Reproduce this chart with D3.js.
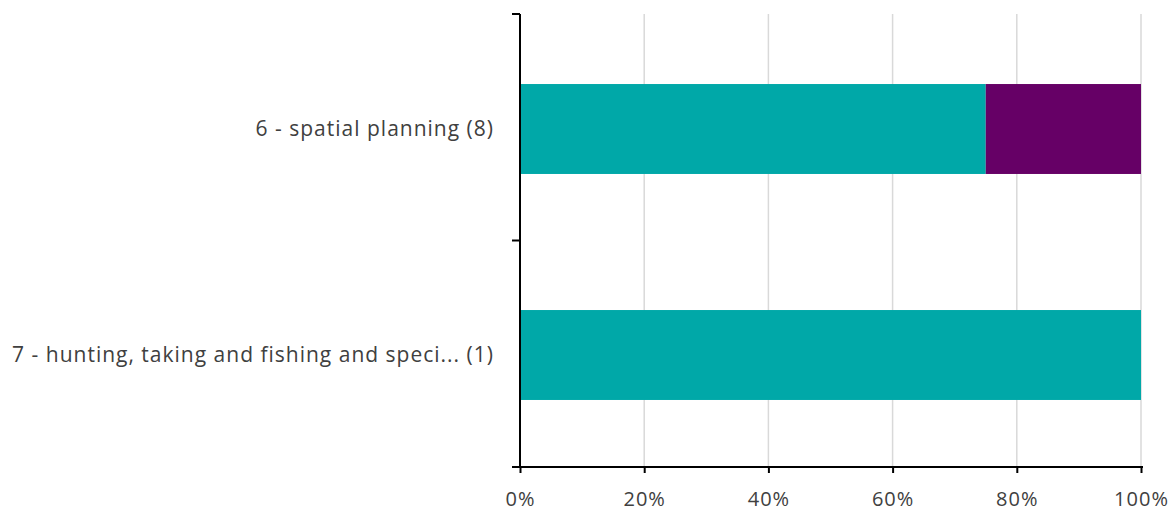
<!DOCTYPE html>
<html>
<head>
<meta charset="utf-8">
<script src="https://cdn.jsdelivr.net/npm/d3@7"></script>
<style>
  html, body { margin: 0; padding: 0; background: #fff; }
  svg { display: block; }
  text { font-family: "Open Sans", sans-serif; fill: #404040; }
</style>
</head>
<body>
<svg id="chart" width="1173" height="513"></svg>
<script>
// Categories (top to bottom) and the share of each response series
const categories = ["6 - spatial planning (8)", "7 - hunting, taking and fishing and speci... (1)"];
const seriesNames = ["yes", "no"];
const seriesYes = [0.75, 1.0];
const seriesNo = [0.25, 0.0];
const seriesColors = ["#00A8A8", "#660066"];
const tickValues = [0, 0.2, 0.4, 0.6, 0.8, 1.0];

const rows = categories.map((c, i) => ({ category: c, yes: seriesYes[i], no: seriesNo[i] }));
const stacked = d3.stack().keys(seriesNames)(rows);

const svg = d3.select("#chart");
const plotLeft = 520, plotRight = 1141, plotTop = 14, plotBottom = 467;
const fontSize = 21;
const tickFontSize = 20;
const letterSpacing = 1;

const x = d3.scaleLinear().domain([0, 1]).range([plotLeft, plotRight]);
const y = d3.scaleBand().domain(categories).range([plotTop + 2, plotBottom + 1]).paddingInner(0.602).paddingOuter(0.301);

// vertical gridlines
svg.append("g")
  .selectAll("line")
  .data(tickValues.slice(1))
  .join("line")
  .attr("x1", d => x(d)).attr("x2", d => x(d))
  .attr("y1", plotTop).attr("y2", plotBottom)
  .attr("stroke", "#d9d9d9").attr("stroke-width", 1.5);

// stacked bars
svg.append("g")
  .selectAll("g")
  .data(stacked)
  .join("g")
  .attr("fill", (d, i) => seriesColors[i])
  .selectAll("rect")
  .data(d => d.map(v => ({ v, cat: v.data.category })))
  .join("rect")
  .attr("x", d => x(d.v[0]))
  .attr("width", d => x(d.v[1]) - x(d.v[0]))
  .attr("y", d => y(d.cat))
  .attr("height", y.bandwidth());

// x axis
const xAxis = svg.append("g")
  .attr("transform", `translate(0,${plotBottom})`)
  .call(d3.axisBottom(x).tickValues(tickValues).tickFormat(d3.format(".0%")).tickSizeOuter(0).tickSize(6).tickPadding(19));
xAxis.select(".domain").attr("stroke", "#000").attr("stroke-width", 2).attr("d", `M${plotLeft - 8},0H${plotRight + 2}`);
xAxis.selectAll(".tick line").attr("stroke", "#000").attr("stroke-width", 2);
xAxis.selectAll("text")
  .attr("font-size", tickFontSize)
  .attr("fill", "#404040")
  .attr("letter-spacing", letterSpacing)
  .style("font-family", "'Open Sans', sans-serif");

// y axis: line with ticks at band boundaries
const yBounds = [plotTop, (plotTop + plotBottom) / 2, plotBottom];
svg.append("line")
  .attr("x1", plotLeft).attr("x2", plotLeft)
  .attr("y1", plotTop).attr("y2", plotBottom)
  .attr("stroke", "#000").attr("stroke-width", 2);
svg.append("g")
  .selectAll("line")
  .data(yBounds)
  .join("line")
  .attr("x1", plotLeft - 8).attr("x2", plotLeft)
  .attr("y1", d => d).attr("y2", d => d)
  .attr("stroke", "#000").attr("stroke-width", 2);

// category labels
svg.append("g")
  .selectAll("text")
  .data(categories)
  .join("text")
  .attr("x", plotLeft - 26)
  .attr("y", d => y(d) + y.bandwidth() / 2)
  .attr("dy", "0.35em")
  .attr("text-anchor", "end")
  .attr("font-size", fontSize)
  .attr("letter-spacing", letterSpacing)
  .text(d => d);
</script>
</body>
</html>
